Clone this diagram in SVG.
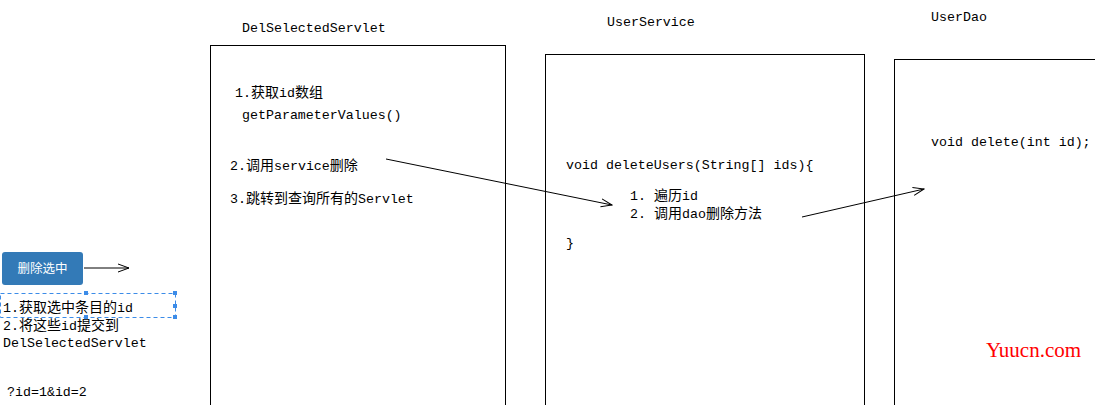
<svg xmlns="http://www.w3.org/2000/svg" width="1095" height="405" viewBox="0 0 1095 405">
<style>
.t{font-family:"Liberation Mono","Noto Sans CJK SC",monospace;font-size:13.3px;fill:#000}
.k{font-family:"Noto Sans CJK SC",sans-serif;font-size:14px}
.box{fill:#fff;stroke:#000;stroke-width:1}
.c{stroke:#000;stroke-width:1;fill:none;marker-end:url(#ah)}
.h{fill:#3c8ce8}
</style>
<defs>
<marker id="ah" viewBox="0 0 12 10" refX="11" refY="5" markerWidth="12" markerHeight="10" markerUnits="userSpaceOnUse" orient="auto">
<path d="M0,1 L11,5 L0,9" fill="none" stroke="#000" stroke-width="1"/>
</marker>
</defs>
<rect width="1095" height="405" fill="#fff"/>
<g id="servlet">
<rect class="box" x="210.5" y="45.5" width="295" height="370"/>
<text class="t" x="242" y="32">DelSelectedServlet</text>
<text class="t" x="235" y="97">1.<tspan class="k">获取</tspan>id<tspan class="k">数组</tspan></text>
<text class="t" x="242" y="119">getParameterValues()</text>
<text class="t" x="230" y="170">2.<tspan class="k">调用</tspan>service<tspan class="k">删除</tspan></text>
<text class="t" x="230" y="203">3.<tspan class="k">跳转到查询所有的</tspan>Servlet</text>
</g>
<g id="service">
<rect class="box" x="545.5" y="54.5" width="319" height="360"/>
<text class="t" x="607" y="26">UserService</text>
<text class="t" x="566" y="169">void deleteUsers(String[] ids){</text>
<text class="t" x="630" y="200">1.  <tspan class="k">遍历</tspan>id</text>
<text class="t" x="630" y="218">2.  <tspan class="k">调用</tspan>dao<tspan class="k">删除方法</tspan></text>
<text class="t" x="566" y="247">}</text>
</g>
<g id="dao">
<rect class="box" x="894.5" y="59.5" width="220" height="360"/>
<text class="t" x="931" y="21">UserDao</text>
<text class="t" x="931" y="146">void delete(int id);</text>
</g>
<g id="button">
<rect x="2" y="252" width="81" height="33" rx="3" fill="#337ab7"/>
<text x="42.5" y="273" text-anchor="middle" style="font-family:'Noto Sans CJK SC',sans-serif;font-size:12.5px;fill:#fff">删除选中</text>
</g>
<g id="note">
<rect x="0.5" y="293.5" width="175" height="24" fill="none" stroke="#3c8ce8" stroke-dasharray="4,3"/>
<rect class="h" x="84" y="291" width="4" height="4"/>
<rect class="h" x="173" y="291" width="4" height="4"/>
<rect class="h" x="173" y="304" width="4" height="4"/>
<rect class="h" x="84" y="315" width="4" height="4"/>
<rect class="h" x="173" y="315" width="4" height="4"/>
<text class="t" x="3" y="312">1.<tspan class="k">获取选中条目的</tspan>id</text>
<text class="t" x="3" y="330">2.<tspan class="k">将这些</tspan>id<tspan class="k">提交到</tspan></text>
<text class="t" x="3" y="347">DelSelectedServlet</text>
<text class="t" x="7" y="396">?id=1&amp;id=2</text>
</g>
<g id="connectors">
<line class="c" x1="84" y1="268" x2="129" y2="268"/>
<line class="c" x1="386" y1="159" x2="612" y2="205"/>
<line class="c" x1="802" y1="217" x2="924" y2="189"/>
</g>
<text x="986" y="357" style="font-family:'Liberation Serif',serif;font-size:21px;fill:#f00">Yuucn.com</text>
</svg>
